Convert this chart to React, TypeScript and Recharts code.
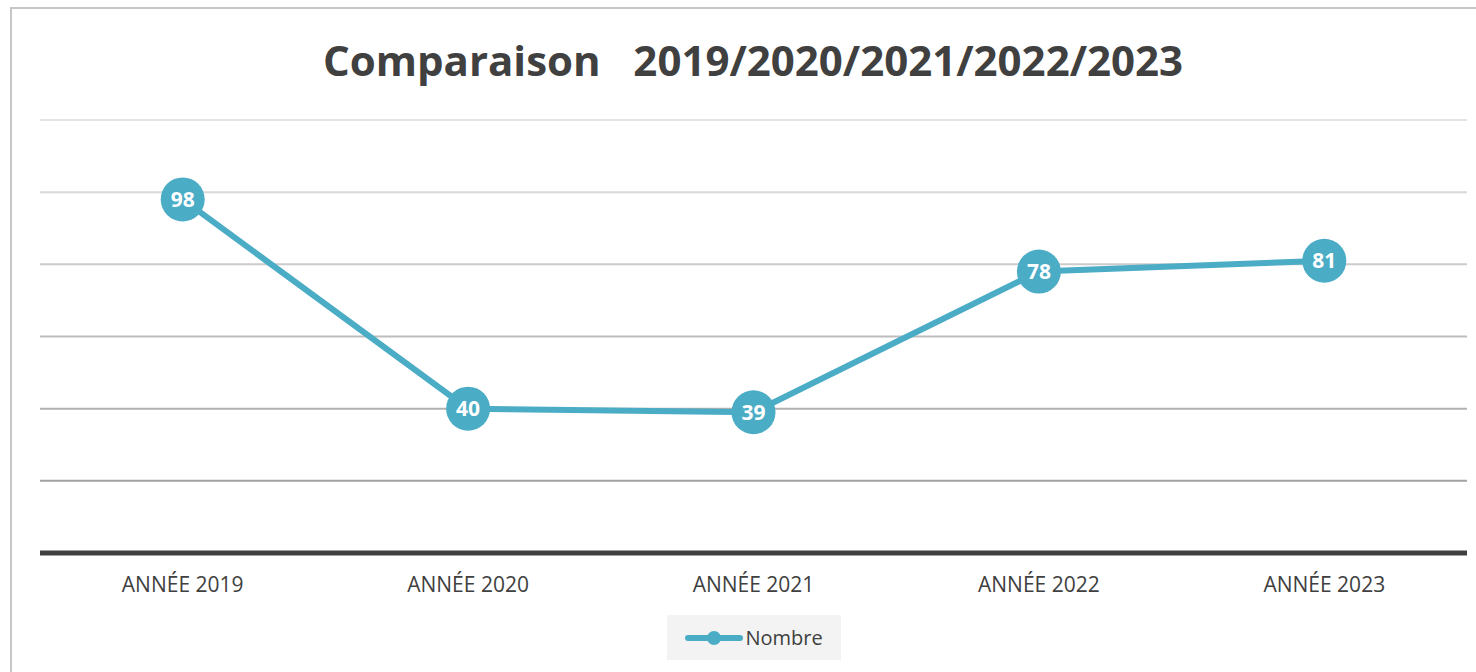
import * as React from "react";
import {
  LineChart,
  Line,
  XAxis,
  YAxis,
  ReferenceLine,
  LabelList,
  Legend,
} from "recharts";

const years: string[] = ["ANNÉE 2019", "ANNÉE 2020", "ANNÉE 2021", "ANNÉE 2022", "ANNÉE 2023"];
const nombre: number[] = [98, 40, 39, 78, 81];
const gridValues: number[] = [20, 40, 60, 80, 100, 120];

const gridColors = ["#a3a3a3", "#b0b0b0", "#bdbdbd", "#cbcbcb", "#d8d8d8", "#e3e3e3"];
const LINE_COLOR = "#4bacc6";
const TEXT_COLOR = "#404040";

interface Row {
  readonly year: string;
  readonly nombre: number;
}

const rows: Row[] = years.map((year, i) => ({ year, nombre: nombre[i] }));

function BigDot(props: { cx?: number; cy?: number; index?: number }): React.JSX.Element | null {
  const { cx, cy, index } = props;
  if (cx == null || cy == null) return null;
  return <circle key={index} cx={cx} cy={cy} r={22} fill={LINE_COLOR} />;
}

function LegendBox(): React.JSX.Element {
  return (
    <div
      style={{
        width: "100%",
        height: "100%",
        background: "#f3f3f3",
        display: "flex",
        alignItems: "center",
        justifyContent: "center",
        color: TEXT_COLOR,
        fontSize: 20,
      }}
    >
      <svg width={58} height={16} style={{ marginRight: 2 }}>
        <line x1={3} y1={8} x2={55} y2={8} stroke={LINE_COLOR} strokeWidth={6} strokeLinecap="round" />
        <circle cx={29} cy={8} r={7} fill={LINE_COLOR} />
      </svg>
      <span>Nombre</span>
    </div>
  );
}

export default function App(): React.JSX.Element {
  return (
    <div style={{ position: "relative", width: 1476, height: 672, fontFamily: "'Open Sans', sans-serif" }}>
      <style>{"body{margin:0;overflow:hidden;background:#fff}"}</style>
      <div
        style={{
          position: "absolute",
          left: 10,
          top: 7,
          width: 1500,
          height: 700,
          border: "2px solid #c6c6c6",
          boxSizing: "border-box",
        }}
      />
      <div
        style={{
          position: "absolute",
          left: 0,
          top: 33,
          width: 1506,
          textAlign: "center",
          fontSize: 42,
          fontWeight: 700,
          color: TEXT_COLOR,
          whiteSpace: "pre",
          lineHeight: "54px",
        }}
      >
        {"Comparaison   2019/2020/2021/2022/2023"}
      </div>
      <div style={{ position: "absolute", left: 0, top: 0 }}>
        <LineChart
          width={1476}
          height={672}
          data={rows}
          margin={{ top: 120, right: 9, bottom: 59, left: 40 }}
        >
          <YAxis hide domain={[0, 120]} ticks={[0, ...gridValues]} />
          {gridValues.map((v, i) => (
            <ReferenceLine key={v} y={v} stroke={gridColors[i]} strokeWidth={2} />
          ))}
          <XAxis
            dataKey="year"
            height={60}
            padding={{ left: 142.7, right: 142.7 }}
            axisLine={{ stroke: "#404040", strokeWidth: 5 }}
            tickLine={false}
            tickSize={0}
            tickMargin={24}
            tick={{ fill: TEXT_COLOR, fontSize: 21 }}
          />
          <Line
            type="linear"
            dataKey="nombre"
            name="Nombre"
            stroke={LINE_COLOR}
            strokeWidth={6}
            dot={<BigDot />}
            activeDot={false}
            isAnimationActive={false}
          >
            <LabelList
              dataKey="nombre"
              position="center"
              fill="#ffffff"
              fontSize={21}
              fontWeight={700}
            />
          </Line>
          <Legend
            layout="horizontal"
            verticalAlign="middle"
            align="center"
            content={<LegendBox />}
            wrapperStyle={{ left: 667, top: 615, width: 174, height: 45 }}
          />
        </LineChart>
      </div>
    </div>
  );
}
